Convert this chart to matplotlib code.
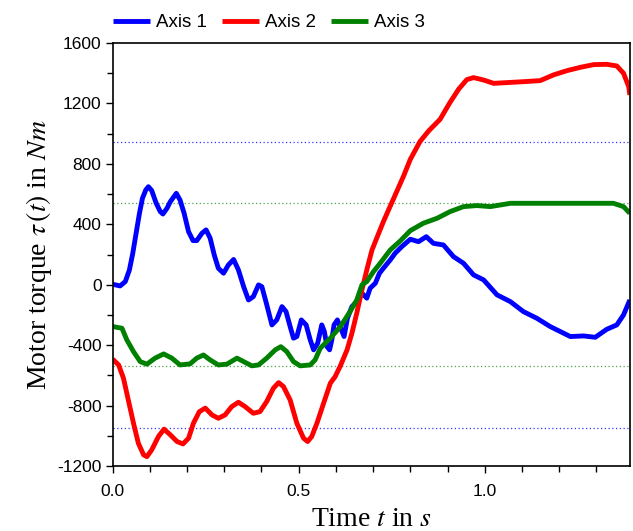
import numpy as np
import matplotlib.pyplot as plt
from matplotlib.ticker import MultipleLocator

# Motor torque samples per axis (time in s, torque in Nm)
t_axis1 = [0.0, 0.02, 0.034, 0.045, 0.054, 0.063, 0.072, 0.08, 0.089, 0.096, 0.105, 0.117,
           0.128, 0.135, 0.146, 0.155, 0.171, 0.181, 0.192, 0.204, 0.216, 0.226, 0.24,
           0.251, 0.262, 0.273, 0.284, 0.298, 0.311, 0.325, 0.338, 0.352, 0.365, 0.378,
           0.392, 0.401, 0.413, 0.428, 0.441, 0.455, 0.466, 0.477, 0.486, 0.495, 0.507,
           0.52, 0.531, 0.54, 0.551, 0.562, 0.569, 0.576, 0.583, 0.589, 0.595, 0.604,
           0.613, 0.622, 0.631, 0.643, 0.656, 0.67, 0.683, 0.692, 0.706, 0.717, 0.728,
           0.746, 0.759, 0.777, 0.8, 0.822, 0.843, 0.862, 0.889, 0.916, 0.943, 0.97,
           0.997, 1.033, 1.069, 1.104, 1.14, 1.176, 1.203, 1.23, 1.266, 1.297, 1.328,
           1.355, 1.373, 1.39]
tau_axis1 = [3, -8, 21, 98, 208, 341, 473, 572, 627, 649, 623, 539,
             484, 468, 506, 550, 605, 561, 473, 351, 292, 292, 341,
             363, 308, 197, 109, 76, 131, 167, 98, -13, -101, -79,
             -1, -13, -122, -266, -233, -145, -178, -277, -354, -343, -233,
             -266, -365, -431, -387, -266, -310, -410, -431, -365, -266, -233,
             -288, -343, -222, -145, -112, -56, -89, -23, 10, 76, 110,
             164, 208, 252, 301, 285, 318, 274, 263, 186, 142, 65,
             32, -67, -112, -178, -222, -277, -310, -343, -339, -348, -295,
             -266, -200, -101]

t_axis2 = [0.0, 0.016, 0.029, 0.042, 0.056, 0.069, 0.083, 0.092, 0.105, 0.123, 0.138,
           0.155, 0.173, 0.189, 0.204, 0.217, 0.233, 0.249, 0.267, 0.284, 0.302, 0.32,
           0.338, 0.356, 0.378, 0.396, 0.414, 0.432, 0.446, 0.459, 0.477, 0.495, 0.513,
           0.524, 0.535, 0.549, 0.567, 0.585, 0.598, 0.612, 0.63, 0.643, 0.656, 0.67,
           0.683, 0.697, 0.71, 0.728, 0.746, 0.764, 0.782, 0.8, 0.826, 0.85, 0.88,
           0.905, 0.93, 0.952, 0.97, 0.997, 1.024, 1.06, 1.104, 1.149, 1.185, 1.221,
           1.257, 1.293, 1.328, 1.355, 1.373, 1.387, 1.39]
tau_axis2 = [-493, -531, -619, -763, -917, -1049, -1126, -1138, -1093, -1005, -956,
             -994, -1038, -1054, -1016, -917, -840, -817, -862, -884, -862, -807,
             -778, -807, -851, -840, -773, -685, -648, -674, -763, -917, -1016,
             -1038, -1005, -917, -784, -652, -608, -537, -431, -321, -189, -34,
             98, 230, 310, 420, 520, 620, 720, 830, 948, 1020, 1095,
             1200, 1295, 1358, 1371, 1355, 1333, 1338, 1344, 1351, 1389, 1417,
             1439, 1457, 1459, 1448, 1400, 1311, 1256]

t_axis3 = [0.0, 0.025, 0.038, 0.056, 0.074, 0.092, 0.114, 0.137, 0.159, 0.181, 0.208,
           0.226, 0.244, 0.262, 0.284, 0.307, 0.334, 0.352, 0.374, 0.392, 0.414, 0.437,
           0.452, 0.468, 0.486, 0.504, 0.531, 0.544, 0.558, 0.567, 0.585, 0.612, 0.638,
           0.656, 0.67, 0.683, 0.701, 0.719, 0.746, 0.773, 0.8, 0.835, 0.872, 0.907,
           0.943, 0.979, 1.015, 1.069, 1.122, 1.212, 1.302, 1.346, 1.373, 1.39]
tau_axis3 = [-277, -288, -365, -443, -509, -526, -486, -458, -486, -531, -524,
             -486, -465, -498, -531, -526, -486, -509, -537, -531, -486, -431,
             -410, -443, -509, -537, -531, -498, -420, -398, -354, -277, -178,
             -101, -1, 21, 87, 142, 230, 290, 358, 407, 440, 484,
             517, 524, 517, 539, 539, 539, 539, 539, 517, 473]

# Torque limits (dotted)
limit_axis1 = 948
limit_axis3 = 540

plt.rcParams['mathtext.fontset'] = 'stix'
plt.rcParams['axes.unicode_minus'] = False

fig = plt.figure(figsize=(6.33, 5.31), dpi=100)
ax = fig.add_axes([0.178, 0.1224, 0.817, 0.7966])

line_kw = dict(lw=3.5, solid_joinstyle='round', solid_capstyle='butt')
ax.plot(t_axis1, tau_axis1, color='#0000ff', label='Axis 1', **line_kw)
ax.plot(t_axis2, tau_axis2, color='#ff0000', label='Axis 2', **line_kw)
ax.plot(t_axis3, tau_axis3, color='#008000', label='Axis 3', **line_kw)

for lim in (limit_axis1, -limit_axis1):
    ax.axhline(lim, color='#0000ff', lw=0.9, ls=(0, (1, 2)), alpha=0.8, zorder=0)
for lim in (limit_axis3, -limit_axis3):
    ax.axhline(lim, color='#008000', lw=0.9, ls=(0, (1, 2)), alpha=0.7, zorder=0)

ax.set_xlim(0, 1.39)
ax.set_ylim(-1200, 1600)
ax.xaxis.set_major_locator(MultipleLocator(0.5))
ax.xaxis.set_minor_locator(MultipleLocator(0.1))
ax.yaxis.set_major_locator(MultipleLocator(400))
ax.yaxis.set_minor_locator(MultipleLocator(200))
ax.xaxis.set_major_formatter(plt.FuncFormatter(lambda v, p: f"{v:.1f}"))
ax.tick_params(which='major', length=5, width=1, labelsize=12.5, pad=3)
ax.tick_params(which='minor', length=4, width=1)
for lbl in ax.get_xticklabels() + ax.get_yticklabels():
    lbl.set_family('Liberation Sans')
ax.tick_params(axis='x', pad=8)
for s in ax.spines.values():
    s.set_linewidth(1.2)

ax.set_xlabel(r"Time $t$ in $s$", family='Liberation Serif', fontsize=20, labelpad=6)
ax.set_ylabel(r"Motor torque $\tau\,(t)$ in $Nm$", family='Liberation Serif',
              fontsize=20, labelpad=2)

ax.legend(loc='center left', bbox_to_anchor=(0.0, 1.048), ncol=3, frameon=False,
          prop={'family': 'Liberation Sans', 'size': 13.5}, handlelength=2.0,
          handletextpad=0.3, columnspacing=0.8, borderaxespad=0, borderpad=0)

fig.savefig('out.png', dpi=100)
